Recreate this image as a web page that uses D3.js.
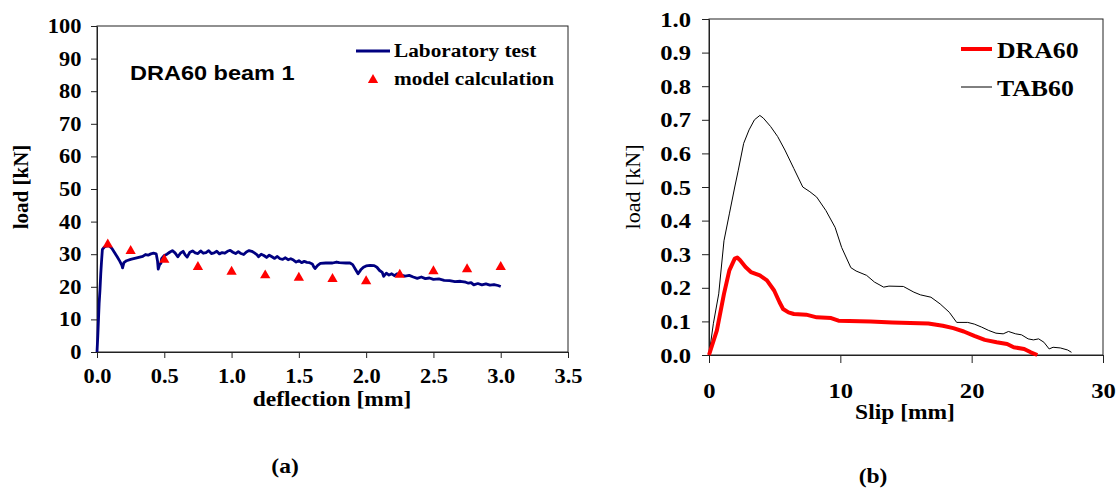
<!DOCTYPE html>
<html>
<head>
<meta charset="utf-8">
<script src="https://cdn.jsdelivr.net/npm/d3@7"></script>
<style>
  body { margin: 0; background: #fff; }
  svg { display: block; }
  .tick line, .domain { stroke: #222; }
</style>
</head>
<body>
<div id="chart"></div>
<script>
// ---- Data: (a) DRA60 beam 1 ----
const labDeflection = [0.000,0.006,0.012,0.016,0.022,0.028,0.034,0.040,0.055,0.070,0.090,0.110,0.130,0.150,0.170,0.185,0.190,0.200,0.220,0.250,0.280,0.310,0.340,0.360,0.380,0.400,0.420,0.440,0.450,0.455,0.465,0.475,0.480,0.500,0.520,0.540,0.560,0.580,0.600,0.620,0.640,0.655,0.670,0.690,0.710,0.730,0.750,0.770,0.790,0.810,0.830,0.850,0.870,0.890,0.910,0.930,0.950,0.970,0.990,1.010,1.030,1.050,1.070,1.090,1.110,1.130,1.150,1.170,1.190,1.200,1.220,1.240,1.260,1.280,1.300,1.320,1.340,1.360,1.380,1.400,1.420,1.440,1.460,1.480,1.500,1.520,1.540,1.560,1.580,1.600,1.610,1.620,1.640,1.660,1.700,1.750,1.780,1.800,1.850,1.880,1.900,1.920,1.940,1.960,1.980,2.000,2.030,2.060,2.080,2.100,2.120,2.130,2.150,2.170,2.190,2.210,2.230,2.260,2.290,2.320,2.350,2.380,2.410,2.440,2.470,2.500,2.540,2.580,2.620,2.660,2.700,2.740,2.760,2.780,2.800,2.830,2.860,2.890,2.920,2.950,2.980,3.000];
const labLoad = [0,5,11,15,19,24,28,31.5,32.2,32.5,32.6,31.8,30.5,29.2,27.8,26.6,25.8,27.4,28.0,28.4,28.7,29.0,29.3,29.9,29.7,30.1,30.3,30.1,27.8,25.4,26.8,27.2,28.6,29.6,30.0,30.6,31.1,30.4,29.2,30.3,30.9,29.8,29.1,30.6,31.0,30.4,30.2,31.0,30.3,30.5,31.1,30.2,30.4,30.9,30.1,30.5,30.3,30.9,31.2,30.6,30.2,30.8,30.2,29.9,30.7,31.1,30.9,30.4,29.8,29.2,30.0,29.6,29.0,29.7,29.2,28.7,29.3,28.6,28.4,28.9,28.3,28.6,28.2,27.6,28.0,27.4,27.8,27.5,27.4,27.0,26.2,25.6,26.6,27.2,27.3,27.3,27.6,27.4,27.3,27.3,26.8,25.4,24.0,25.2,26.0,26.4,26.6,26.5,26.0,25.0,24.4,23.2,24.2,23.6,24.0,23.4,24.0,23.6,23.3,23.5,23.0,22.6,23.0,22.5,22.7,22.3,22.4,22.0,21.9,21.6,21.7,21.4,21.1,21.3,20.6,21.0,20.6,20.9,20.5,20.7,20.4,20.1];
const modelDeflection = [0.08,0.25,0.5,0.75,1.0,1.25,1.5,1.75,2.0,2.25,2.5,2.75,3.0];
const modelLoad = [33.0,31.0,28.3,26.1,24.6,23.5,22.8,22.4,21.7,23.7,24.8,25.4,26.1];
const deflectionTicks = [0,0.5,1,1.5,2,2.5,3,3.5];
const loadTicksA = [0,10,20,30,40,50,60,70,80,90,100];

// ---- Data: (b) slip curves ----
const draSlip = [0,0.6,1.14,1.55,1.96,2.15,2.37,2.78,3.19,3.87,4.41,4.96,5.37,5.64,6.05,6.46,7.4,8.2,9.3,9.86,12.3,13.95,16.7,17.8,18.6,19.4,20.2,21.0,21.9,22.7,23.2,24.0,24.5,25.0];
const draLoad = [0,0.073,0.182,0.252,0.287,0.29,0.282,0.262,0.247,0.237,0.222,0.192,0.157,0.137,0.127,0.122,0.12,0.112,0.11,0.102,0.1,0.097,0.094,0.087,0.08,0.07,0.057,0.045,0.038,0.033,0.023,0.018,0.008,0];
const tabSlip = [0,0.33,0.74,1.14,1.55,1.96,2.23,2.64,3.05,3.46,3.87,4.14,4.69,5.23,5.78,6.46,7.14,7.68,8.2,8.9,9.6,10.1,10.8,11.2,12.0,12.6,13.3,13.7,14.8,15.6,16.1,16.9,17.6,18.3,18.86,19.7,20.2,20.76,21.3,21.85,22.4,22.8,23.35,23.8,24.3,24.7,25.1,25.5,25.9,26.2,26.75,27.3,27.6];
const tabLoad = [0,0.093,0.182,0.34,0.42,0.5,0.55,0.63,0.67,0.70,0.713,0.705,0.68,0.65,0.61,0.555,0.5,0.486,0.47,0.43,0.38,0.32,0.26,0.25,0.237,0.217,0.202,0.205,0.204,0.187,0.179,0.172,0.152,0.127,0.097,0.097,0.092,0.083,0.073,0.065,0.063,0.07,0.063,0.06,0.048,0.045,0.048,0.038,0.018,0.023,0.021,0.015,0.008];
const slipTicks = [0,10,20,30];
const loadTicksB = [0,0.1,0.2,0.3,0.4,0.5,0.6,0.7,0.8,0.9,1.0];

const serif = "'Liberation Serif', 'Times New Roman', serif";
const sx = 1.12; // source image is stretched horizontally

const svg = d3.select("#chart").append("svg")
  .attr("width", 1116).attr("height", 490)
  .style("font-family", serif);

function label(x, y, str, opts) {
  const t = svg.append("text")
    .attr("transform", `translate(${x},${y})` + (opts.rotate ? " rotate(-90)" : ` scale(${sx},1)`))
    .attr("text-anchor", opts.anchor || "middle")
    .style("font-size", opts.size + "px")
    .style("font-weight", opts.weight || "bold")
    .style("font-family", opts.family || serif)
    .text(str);
  return t;
}

// ======== Chart (a) ========
const xA = d3.scaleLinear().domain([0, 3.5]).range([97, 568]);
const yA = d3.scaleLinear().domain([0, 100]).range([352, 26]);

svg.append("rect").attr("x", 97).attr("y", 26).attr("width", 471).attr("height", 326)
  .attr("fill", "none").attr("stroke", "#222");

svg.append("g").attr("transform", "translate(0,352)")
  .call(d3.axisBottom(xA).tickValues(deflectionTicks).tickFormat(d3.format(".1f")).tickSize(6).tickSizeOuter(0))
  .call(g => g.selectAll("text").attr("y", 17).attr("dy", "0.71em")
    .attr("transform", `scale(${sx},1)`)
    .style("font-size", "20px").style("font-weight", "bold").style("font-family", serif).attr("fill", "#000"));

svg.append("g").attr("transform", "translate(97,0)")
  .call(d3.axisLeft(yA).tickValues(loadTicksA).tickSize(6).tickSizeOuter(0))
  .call(g => g.selectAll("text").attr("x", -14)
    .attr("transform", `scale(${sx},1)`)
    .style("font-size", "20px").style("font-weight", "bold").style("font-family", serif).attr("fill", "#000"));

const labLine = d3.line().x(i => xA(labDeflection[i])).y(i => yA(labLoad[i]));
svg.append("path").attr("d", labLine(d3.range(labDeflection.length)))
  .attr("fill", "none").attr("stroke", "#000080").attr("stroke-width", 2.8).attr("stroke-linejoin", "round");

const tri = d3.symbol().type(d3.symbolTriangle).size(46);
svg.selectAll(".model").data(modelDeflection).enter().append("path")
  .attr("class", "model")
  .attr("transform", (d, i) => `translate(${xA(d)},${yA(modelLoad[i])})`)
  .attr("d", tri).attr("fill", "#ff0000");

label(332, 406, "deflection [mm]", { size: 21 });
label(28, 187, "load [kN]", { size: 21, rotate: true });
label(130, 80, "DRA60 beam 1", { size: 21, anchor: "start", family: "'Liberation Sans', Arial, sans-serif" });

// legend (a)
svg.append("line").attr("x1", 356).attr("x2", 390).attr("y1", 51).attr("y2", 51)
  .attr("stroke", "#000080").attr("stroke-width", 2.8);
label(394, 57, "Laboratory test", { size: 19, anchor: "start" });
svg.append("path").attr("transform", "translate(373,80)").attr("d", tri).attr("fill", "#ff0000");
label(394, 85, "model calculation", { size: 19, anchor: "start" });

label(285, 473, "(a)", { size: 21 });

// ======== Chart (b) ========
const xB = d3.scaleLinear().domain([0, 30]).range([709, 1103]);
const yB = d3.scaleLinear().domain([0, 1]).range([355, 19]);

svg.append("rect").attr("x", 709).attr("y", 19).attr("width", 394).attr("height", 336)
  .attr("fill", "none").attr("stroke", "#222");

svg.append("g").attr("transform", "translate(0,355)")
  .call(d3.axisBottom(xB).tickValues(slipTicks).tickSize(8).tickSizeOuter(0))
  .call(g => g.selectAll("text").attr("y", 27).attr("dy", "0.71em")
    .attr("transform", `scale(${sx},1)`)
    .style("font-size", "22px").style("font-weight", "bold").style("font-family", serif).attr("fill", "#000"));

svg.append("g").attr("transform", "translate(709,0)")
  .call(d3.axisLeft(yB).tickValues(loadTicksB).tickFormat(d3.format(".1f")).tickSize(7).tickSizeOuter(0))
  .call(g => g.selectAll("text").attr("x", -16)
    .attr("transform", `scale(${sx},1)`)
    .style("font-size", "22px").style("font-weight", "bold").style("font-family", serif).attr("fill", "#000"));

const tabLine = d3.line().x(i => xB(tabSlip[i])).y(i => yB(tabLoad[i]));
svg.append("path").attr("d", tabLine(d3.range(tabSlip.length)))
  .attr("fill", "none").attr("stroke", "#000").attr("stroke-width", 1);

const draLine = d3.line().x(i => xB(draSlip[i])).y(i => yB(draLoad[i]));
svg.append("path").attr("d", draLine(d3.range(draSlip.length)))
  .attr("fill", "none").attr("stroke", "#ff0000").attr("stroke-width", 4).attr("stroke-linejoin", "round");

label(905, 419, "Slip [mm]", { size: 21 });
label(640, 187, "load [kN]", { size: 22, weight: "normal", rotate: true });

// legend (b)
svg.append("line").attr("x1", 961).attr("x2", 992).attr("y1", 49).attr("y2", 49)
  .attr("stroke", "#ff0000").attr("stroke-width", 4);
label(997, 58, "DRA60", { size: 23, anchor: "start" });
svg.append("line").attr("x1", 961).attr("x2", 992).attr("y1", 87).attr("y2", 87)
  .attr("stroke", "#000").attr("stroke-width", 1);
label(997, 96, "TAB60", { size: 23, anchor: "start" });

label(873, 483, "(b)", { size: 21 });
</script>
</body>
</html>
